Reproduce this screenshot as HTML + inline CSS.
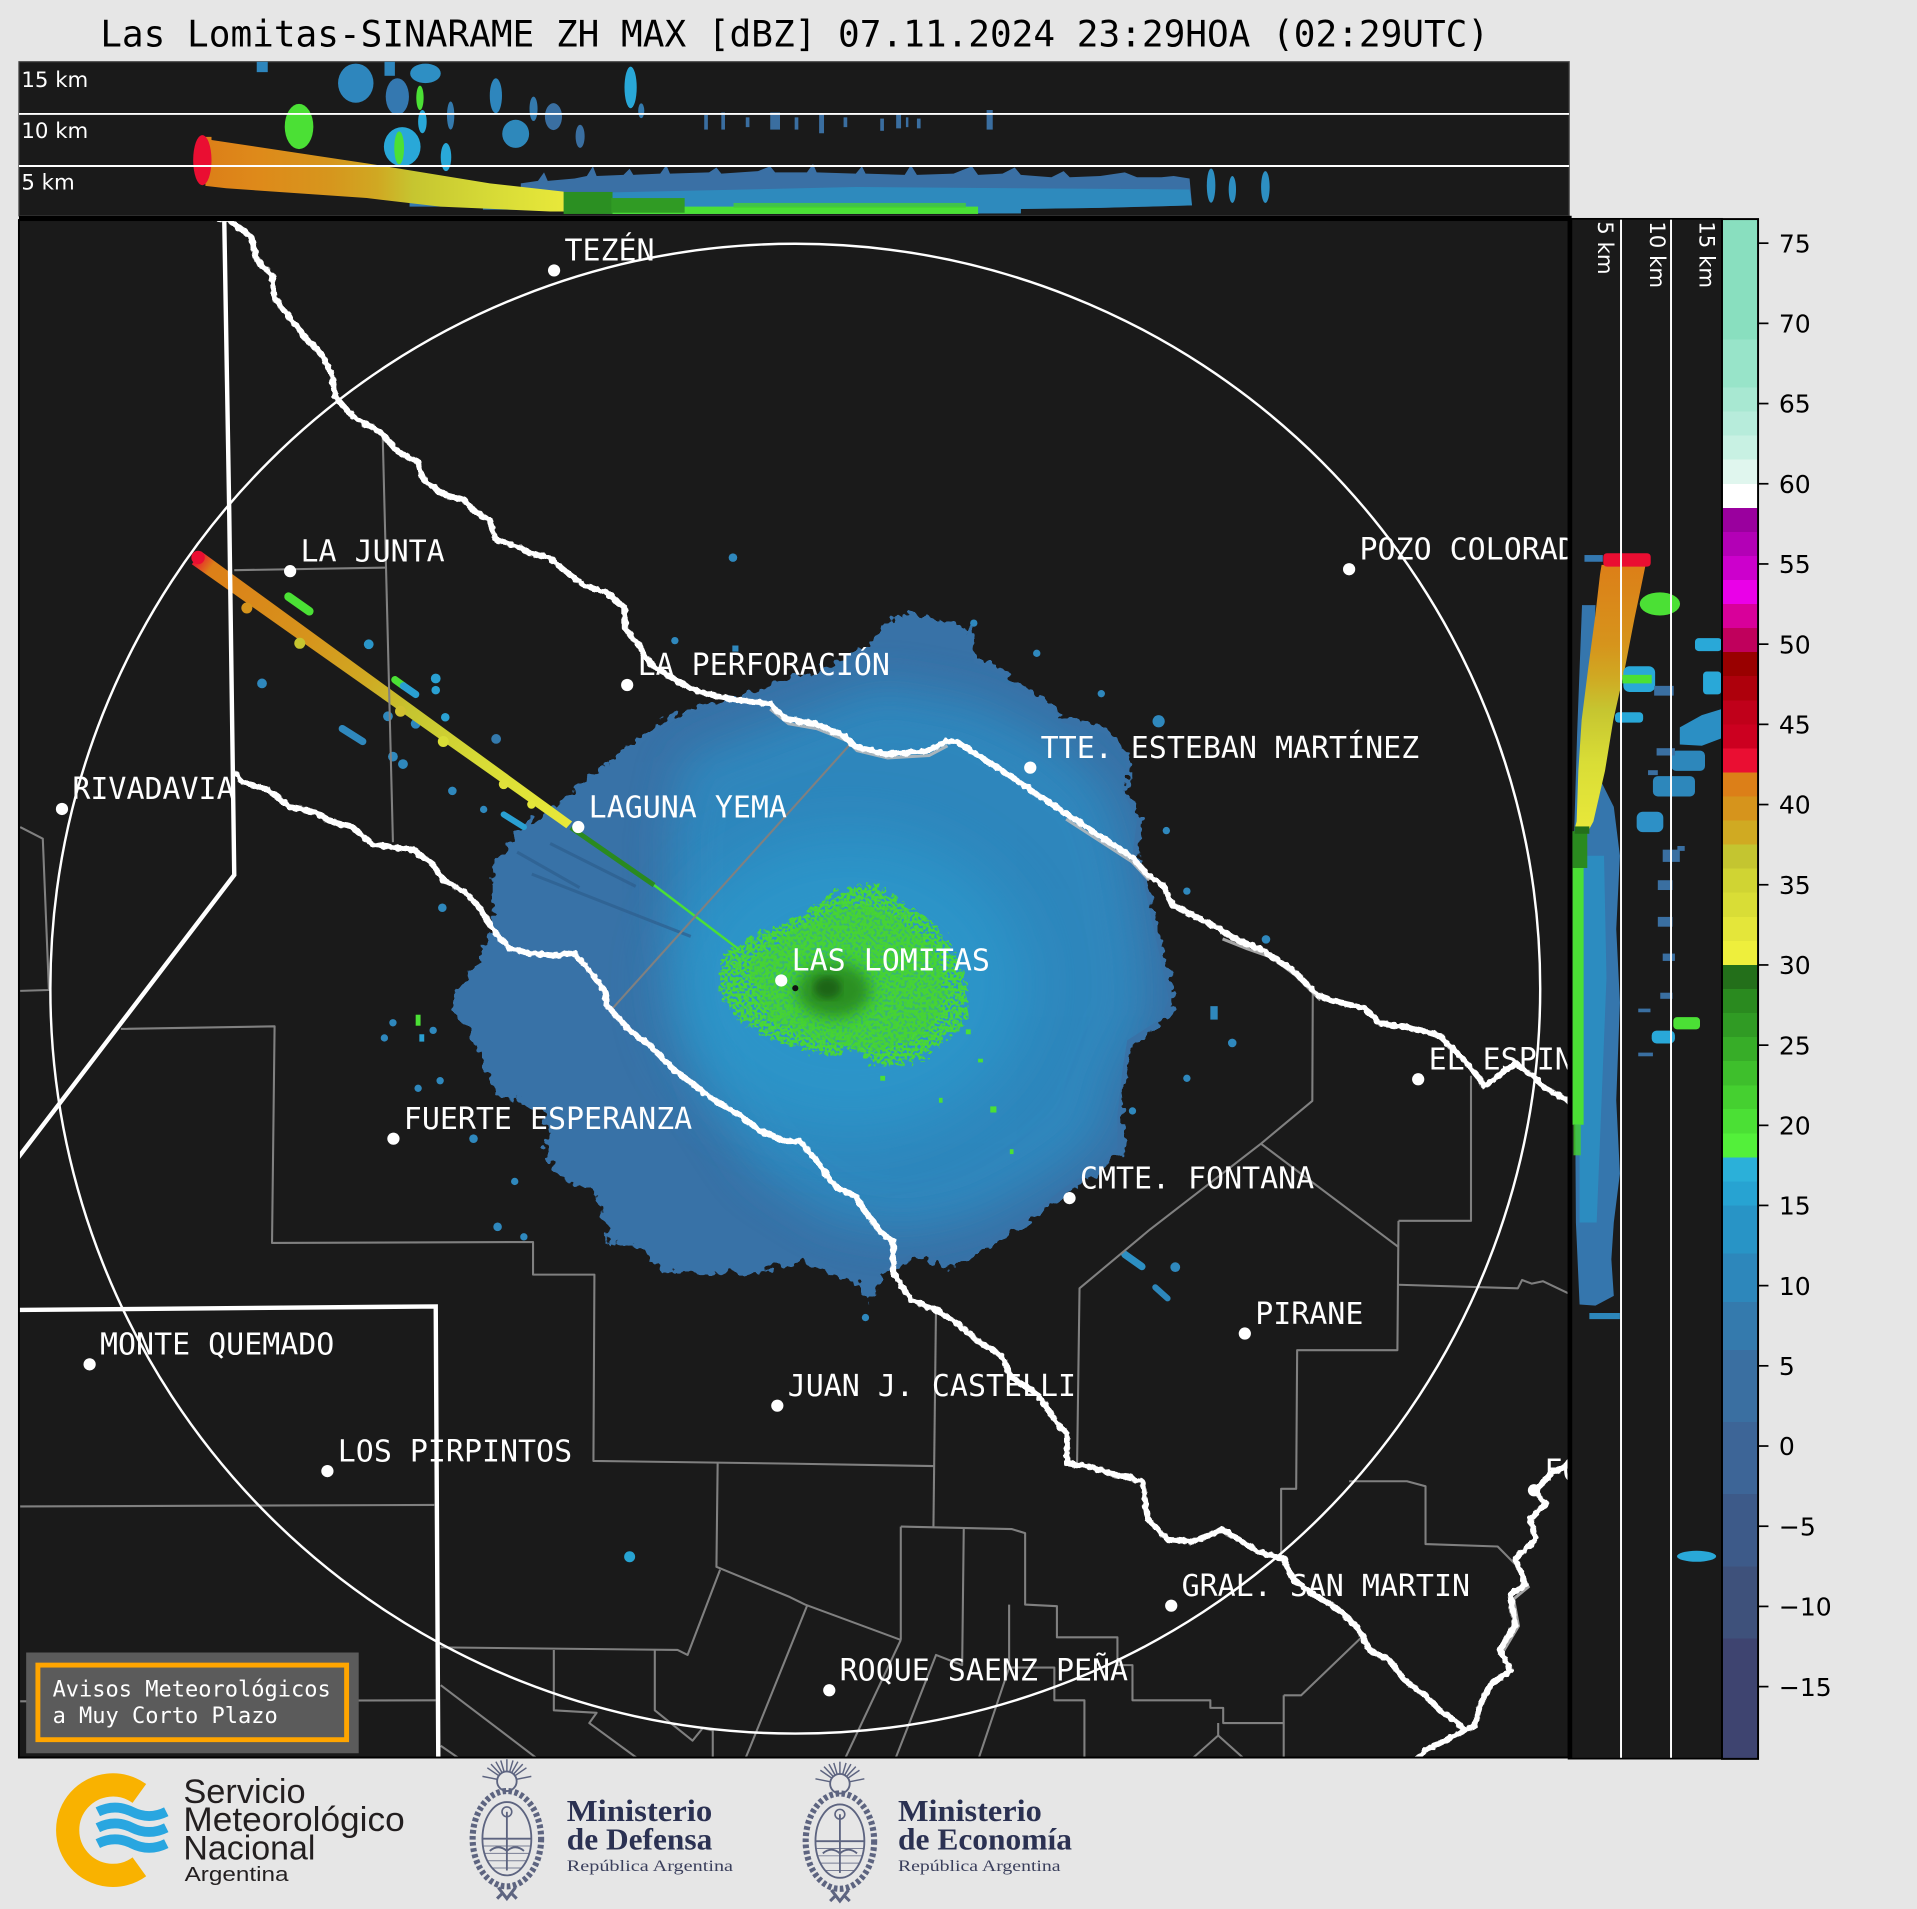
<!DOCTYPE html>
<html><head><meta charset="utf-8"><style>
html,body{margin:0;padding:0;background:#e6e6e6;}
svg{display:block;}
</style></head><body>
<svg xmlns="http://www.w3.org/2000/svg" width="1917" height="1909" viewBox="0 0 1568 1561.5" preserveAspectRatio="none">
<defs>
<clipPath id="cTop"><rect x="15.5" y="50.5" width="1268" height="126"/></clipPath>
<clipPath id="cMain"><rect x="15.5" y="180" width="1267.5" height="1257.6"/></clipPath>
<clipPath id="cSide"><rect x="1286" y="179" width="122.5" height="1259.5"/></clipPath>
<clipPath id="cBlob"><polygon points="744,506 768,512 791,519 797,542 819,552 843,570 859,577 869,591 904,600 922,622 918,646 930,671 926,701 934,715 942,752 950,788 956,817 950,833 922,851 918,876 914,912 914,940 895,956 871,971 846,991 813,1012 792,1028 778,1034 749,1024 724,1037 712,1058 700,1045 658,1028 642,1032 618,1037 577,1037 546,1037 526,1016 502,1012 498,997 490,973 465,962 450,940 453,921 445,909 428,897 412,892 400,870 391,846 376,826 380,810 388,797 399,781 407,759 407,710 426,682 450,667 477,645 513,616 537,598 560,584 590,577 618,570 645,559 673,551 708,533 726,515"/></clipPath>
<filter id="rough" x="-10%" y="-10%" width="120%" height="120%"><feTurbulence type="fractalNoise" baseFrequency="0.13" numOctaves="2" seed="4"/><feDisplacementMap in="SourceGraphic" scale="14" xChannelSelector="R" yChannelSelector="G"/></filter>
<filter id="rough2" x="-10%" y="-10%" width="120%" height="120%"><feTurbulence type="fractalNoise" baseFrequency="0.2" numOctaves="2" seed="9"/><feDisplacementMap in="SourceGraphic" scale="16" xChannelSelector="R" yChannelSelector="G"/></filter>
<filter id="speck" x="0" y="0" width="100%" height="100%"><feTurbulence type="fractalNoise" baseFrequency="0.45" numOctaves="1" seed="7" result="n"/><feColorMatrix in="n" type="matrix" values="0 0 0 0 0  0 0 0 0 0  0 0 0 0 0  7 0 0 0 -2.6" result="m"/><feComposite in="SourceGraphic" in2="m" operator="in"/></filter>
<filter id="wig" x="-5%" y="-5%" width="110%" height="110%"><feTurbulence type="fractalNoise" baseFrequency="0.25" numOctaves="1" seed="2"/><feDisplacementMap in="SourceGraphic" scale="4" xChannelSelector="R" yChannelSelector="G"/></filter>
<filter id="b20" x="-20%" y="-20%" width="140%" height="140%"><feGaussianBlur stdDeviation="18"/></filter>
<filter id="b25" x="-30%" y="-30%" width="160%" height="160%"><feGaussianBlur stdDeviation="25"/></filter>
<filter id="b6" x="-30%" y="-30%" width="160%" height="160%"><feGaussianBlur stdDeviation="6"/></filter>
<filter id="b3"><feGaussianBlur stdDeviation="3"/></filter>
<linearGradient id="gBeam" gradientUnits="userSpaceOnUse" x1="160" y1="456" x2="466" y2="675">
<stop offset="0" stop-color="#ea0e32"/><stop offset="0.04" stop-color="#dc7f18"/><stop offset="0.3" stop-color="#d6941c"/><stop offset="0.45" stop-color="#d0a822"/><stop offset="0.58" stop-color="#c6c530"/><stop offset="0.78" stop-color="#d9dd36"/><stop offset="1" stop-color="#e8e83a"/></linearGradient>
<linearGradient id="gTopBeam" gradientUnits="userSpaceOnUse" x1="168" y1="0" x2="461" y2="0">
<stop offset="0" stop-color="#dc7f18"/><stop offset="0.15" stop-color="#de8a1a"/><stop offset="0.35" stop-color="#d6961d"/><stop offset="0.48" stop-color="#d0a822"/><stop offset="0.58" stop-color="#c6c530"/><stop offset="0.78" stop-color="#d5d936"/><stop offset="1" stop-color="#e8e83a"/></linearGradient>
<linearGradient id="gSideBeam" gradientUnits="userSpaceOnUse" x1="0" y1="463" x2="0" y2="677">
<stop offset="0" stop-color="#dc7f18"/><stop offset="0.3" stop-color="#d6941c"/><stop offset="0.42" stop-color="#d0a822"/><stop offset="0.55" stop-color="#c6c530"/><stop offset="0.75" stop-color="#d9dd36"/><stop offset="1" stop-color="#e8e83a"/></linearGradient>
</defs>

<rect x="0" y="0" width="1568" height="1561.5" fill="#e6e6e6"/>

<text x="82" y="38" font-family="DejaVu Sans Mono, Liberation Mono, monospace" font-size="29.6" fill="#000" textLength="1136" lengthAdjust="spacingAndGlyphs">Las Lomitas-SINARAME ZH MAX [dBZ] 07.11.2024 23:29HOA (02:29UTC)</text>

<!-- ================= TOP PANEL ================= -->
<rect x="15.5" y="50.5" width="1268" height="126" fill="#1a1a1a" stroke="#444" stroke-width="1"/>
<g clip-path="url(#cTop)">
  <ellipse cx="244.6" cy="103.5" rx="11.7" ry="18.5" fill="#4be035"/>
  <ellipse cx="291" cy="68" rx="14.5" ry="16" fill="#2e86bd"/>
  <rect x="210" y="50" width="9" height="9" fill="#2e86bd"/>
  <rect x="314.5" y="50" width="8.5" height="12" fill="#2e86bd"/>
  <ellipse cx="325" cy="79" rx="9.5" ry="15" fill="#3478b0"/>
  <ellipse cx="348" cy="60" rx="12.5" ry="8" fill="#2e8fc4"/>
  <ellipse cx="343.5" cy="80" rx="3" ry="10" fill="#4be035"/>
  <ellipse cx="345.5" cy="99.5" rx="3.5" ry="9.5" fill="#29a8d8"/>
  <ellipse cx="329" cy="120" rx="15" ry="16" fill="#29a8d8"/>
  <ellipse cx="326.5" cy="121" rx="4" ry="13.5" fill="#4be035"/>
  <ellipse cx="364.8" cy="128.5" rx="4.3" ry="11.5" fill="#29a8d8"/>
  <ellipse cx="368.6" cy="94.5" rx="3" ry="11.5" fill="#347aad"/>
  <ellipse cx="405.6" cy="78.3" rx="5" ry="14.3" fill="#2e86bd"/>
  <ellipse cx="421.8" cy="109.5" rx="11" ry="11.5" fill="#2e88bb"/>
  <ellipse cx="436.4" cy="89" rx="3.3" ry="10" fill="#347aad"/>
  <ellipse cx="452.7" cy="95.4" rx="7" ry="11" fill="#3a6fa1"/>
  <ellipse cx="474.5" cy="111.5" rx="3.7" ry="9.5" fill="#3a6fa1"/>
  <ellipse cx="515.8" cy="71.5" rx="5" ry="17" fill="#29a8d8"/>
  <ellipse cx="524.5" cy="90.6" rx="2.5" ry="6" fill="#347aad"/>
  <g fill="#3a6ea0">
    <rect x="576" y="94" width="3" height="12"/><rect x="590" y="92" width="3" height="14"/><rect x="610" y="96" width="3" height="8"/>
    <rect x="630" y="92" width="8" height="14"/><rect x="650" y="96" width="3" height="10"/><rect x="670" y="93" width="4" height="16"/>
    <rect x="690" y="96" width="3" height="8"/><rect x="720" y="97" width="3" height="10"/><rect x="733" y="93" width="4" height="12"/>
    <rect x="741" y="96" width="2" height="8"/><rect x="750" y="97" width="3" height="8"/><rect x="807" y="90" width="5" height="16"/>
  </g>
  <polygon fill="#3a70a5" points="426,150 440,148 445,141 448,148 470,146 480,144 485,136 488,144 510,143 515,138 518,143 540,142 545,135 548,142 580,141 586,137 590,142 620,140 630,136 634,141 660,141 665,134 668,141 700,142 705,136 708,142 740,143 745,135 750,143 780,142 795,136 800,143 820,142 830,137 835,143 860,145 870,140 875,145 900,144 920,141 930,145 950,145 960,144 973,146 975,168 940,169 900,170 835,171 835,174.5 720,175 600,175 500,175 470,174 461,173 461,157 440,156 426,155"/>
  <polygon fill="#2a95c8" opacity="0.7" points="470,158 700,153 973,155 975,168 900,170 835,171 835,174.5 470,174.5"/>
  <rect x="500" y="169" width="300" height="6" fill="#4be035"/>
  <rect x="600" y="166" width="190" height="4" fill="#45d030" opacity="0.8"/>
  <rect x="461" y="157" width="40" height="18" fill="#2b8f22"/>
  <rect x="500" y="162" width="60" height="12" fill="#309b24"/>
  <ellipse cx="990.6" cy="151.8" rx="3.5" ry="14" fill="#2d8fc2"/>
  <ellipse cx="1008" cy="155" rx="3" ry="11" fill="#2d8fc2"/>
  <ellipse cx="1035" cy="153" rx="3.5" ry="13" fill="#2d8fc2"/>
  <rect x="335" y="166" width="28" height="3" fill="#3478b0"/>
  <rect x="395" y="168" width="50" height="3.5" fill="#3478b0"/>
  <polygon fill="url(#gTopBeam)" points="168,112 173,112 173,114.5 300,133.6 400.7,150 461,156.7 461,173 450,173 360,169 300,162 185,154 168,152"/>
  <ellipse cx="165.5" cy="131" rx="7.5" ry="20.5" fill="#ea0e32"/>
  <line x1="15.5" y1="93.2" x2="1283.5" y2="93.2" stroke="#fff" stroke-width="1.6"/>
  <line x1="15.5" y1="135.8" x2="1283.5" y2="135.8" stroke="#fff" stroke-width="1.6"/>
  <g font-family="DejaVu Sans, Liberation Sans, sans-serif" font-size="17.4" fill="#fff">
    <text x="17.5" y="71">15 km</text>
    <text x="17.5" y="113">10 km</text>
    <text x="17.5" y="155">5 km</text>
  </g>
</g>
<rect x="15.5" y="176.5" width="1270" height="3.6" fill="#000"/>

<!-- ================= MAIN MAP ================= -->
<rect x="15.5" y="180" width="1267.5" height="1257.6" fill="#1a1a1a"/>
<g clip-path="url(#cMain)">
  <polygon filter="url(#rough)" fill="#3872a7" points="744,500 768,507 791,514 799,540 819,547 843,566 859,573 871,587 906,595 926,620 922,646 934,671 930,701 938,715 946,752 954,788 962,817 954,836 926,854 922,876 918,912 918,942 898,960 873,975 848,995 815,1016 794,1032 778,1038 749,1028 724,1041 712,1065 700,1049 658,1032 642,1036 618,1041 577,1041 544,1041 523,1020 499,1016 494,999 486,975 461,966 445,942 449,921 441,909 424,900 408,896 396,872 387,847 371,826 375,810 383,796 395,780 403,759 403,708 423,679 447,664 474,642 510,613 534,595 558,580 589,573 617,566 645,555 673,547 708,529 724,511"/>
  <g clip-path="url(#cBlob)">
    <polygon filter="url(#b20)" fill="#2d89bf" opacity="0.9" points="560,620 640,590 720,560 800,575 860,605 905,645 922,700 935,780 938,830 912,880 900,930 860,962 800,995 740,1008 680,998 620,960 580,900 560,840 548,760 548,680"/>
    <ellipse cx="695" cy="805" rx="145" ry="122" fill="#2a9fd1" opacity="0.6" filter="url(#b25)"/>
    <g stroke="#2e5f8e" stroke-width="2.5" opacity="0.7">
      <line x1="423" y1="697" x2="474" y2="726"/>
      <line x1="435" y1="715" x2="565" y2="766"/>
      <line x1="450" y1="690" x2="520" y2="725"/>
    </g>
  </g>
  <g filter="url(#speck)">
    <polygon filter="url(#rough2)" fill="#4ad835" points="588,790 600,775 625,762 650,752 668,740 690,728 712,722 735,735 755,748 772,765 785,790 792,815 788,840 770,852 755,866 730,872 712,868 700,858 676,862 652,858 628,848 605,835 590,815"/>
  </g>
  <polygon filter="url(#rough2)" fill="#45d233" opacity="0.55" points="610,790 640,765 690,740 730,745 765,775 775,815 760,845 720,860 670,852 630,835"/>
  <ellipse cx="682" cy="810" rx="30" ry="22" fill="#2c9024" filter="url(#b6)"/>
  <ellipse cx="677" cy="808" rx="11" ry="9" fill="#1f6519" filter="url(#b3)"/>
  <g fill="#4be035">
    <rect x="790" y="842" width="4" height="4"/><rect x="810" y="905" width="5" height="5"/><rect x="768" y="898" width="3" height="4"/>
    <rect x="826" y="940" width="3" height="4"/><rect x="800" y="866" width="4" height="3"/><rect x="720" y="880" width="4" height="4"/>
  </g>
  <g fill="#2f88bd">
    <circle cx="301.6" cy="527" r="4" fill="#2a95c8"/><circle cx="214.3" cy="559" r="4"/>
    <circle cx="356.4" cy="555" r="4" fill="#2aa0d2"/><circle cx="356.4" cy="564.5" r="3.5" fill="#2aa0d2"/>
    <circle cx="364.2" cy="586.7" r="3.5" fill="#2aa0d2"/><circle cx="317.3" cy="585.9" r="4"/>
    <circle cx="340" cy="592" r="4"/><circle cx="405.8" cy="604.4" r="4" fill="#347aad"/>
    <circle cx="321.4" cy="618.9" r="4"/><circle cx="329.6" cy="625" r="4"/>
    <circle cx="370" cy="646.9" r="3.5"/><circle cx="395.6" cy="662.1" r="3"/>
    <circle cx="599.5" cy="456.1" r="3.5"/><circle cx="552" cy="524" r="3"/><rect x="599" y="528" width="5" height="5"/>
    <circle cx="361.8" cy="742.5" r="3.5"/>
    <circle cx="321.4" cy="836.6" r="3"/><circle cx="314.4" cy="849" r="3"/><circle cx="354.3" cy="842.8" r="3"/>
    <circle cx="342" cy="890.2" r="3"/><circle cx="360" cy="884" r="3"/><circle cx="387.3" cy="931.4" r="3.5"/>
    <circle cx="407" cy="1003.5" r="3.5"/><circle cx="428.5" cy="1011.7" r="3"/><circle cx="421" cy="966.4" r="3"/>
    <circle cx="515" cy="1273.4" r="4.5" fill="#27a3d2"/>
    <rect x="990" y="823" width="6" height="11"/><circle cx="1007.9" cy="853.1" r="3.5"/>
    <circle cx="970.8" cy="882" r="3"/><circle cx="926.3" cy="908.7" r="3"/>
    <circle cx="961.3" cy="1036.5" r="4"/><circle cx="707.9" cy="1077.7" r="3"/>
    <circle cx="1035.5" cy="768.4" r="3.5"/><circle cx="970.8" cy="728.9" r="3"/><circle cx="954" cy="679.4" r="3"/>
    <circle cx="947.7" cy="590" r="5"/><circle cx="900.8" cy="567.4" r="3"/><circle cx="848" cy="534.4" r="3"/><circle cx="796.5" cy="509.7" r="3"/>
  </g>
  <g stroke-linecap="round">
    <line x1="280" y1="596" x2="296.7" y2="606.5" stroke="#2f88bd" stroke-width="6"/>
    <line x1="323" y1="556" x2="330" y2="561" stroke="#4be035" stroke-width="6"/>
    <line x1="330" y1="561" x2="340" y2="568" stroke="#2aa0d2" stroke-width="6"/>
    <line x1="412" y1="666.2" x2="428.5" y2="676.5" stroke="#2aa0d2" stroke-width="5"/>
    <line x1="236" y1="488" x2="253" y2="500" stroke="#4be035" stroke-width="7"/>
    <line x1="920" y1="1026" x2="934" y2="1036" stroke="#2d8fc2" stroke-width="6"/>
    <line x1="945" y1="1053" x2="955" y2="1062" stroke="#2d87bb" stroke-width="5"/>
    <rect x="340" y="830" width="4" height="9" fill="#4be035" stroke="none"/>
    <rect x="343" y="846" width="4" height="6" fill="#2aa0d2" stroke="none"/>
  </g>
  <!-- beam -->
  <polygon fill="url(#gBeam)" points="164.5,451 468,672 463.2,677.5 156.9,461.5"/>
  <circle cx="162" cy="456" r="5.5" fill="#ea0e32"/>
  <g>
    <circle cx="201.9" cy="497.3" r="4.5" fill="#d6941c"/>
    <circle cx="245.2" cy="526.2" r="4.5" fill="#c6c530"/>
    <circle cx="327.6" cy="581.8" r="4.5" fill="#d0c030"/>
    <circle cx="362.6" cy="606.5" r="4.5" fill="#d9dd36"/>
    <circle cx="412" cy="641.5" r="4" fill="#e0e03a"/>
    <circle cx="434.7" cy="658" r="3.5" fill="#e4e63a"/>
  </g>
  <line x1="467" y1="677" x2="535" y2="724" stroke="#2a8a1f" stroke-width="4"/>
  <line x1="535" y1="724" x2="605" y2="777" stroke="#4be035" stroke-width="2"/>

  <g fill="none" stroke="#808080" stroke-width="1.7" stroke-linejoin="round">
    <polyline points="191.6,466.4 315.2,464.3"/>
    <polyline points="313,355.2 321.4,688.9"/>
    <polyline points="16.5,676.5 35,686 40,809.8 16.5,810.5"/>
    <polyline points="697,607 500,826"/>
    <polyline points="98.9,841.6 224.6,839.5 222.5,1016.7 436,1015.9 436,1042.6 486.2,1042.6 485.4,1195 646,1197.2 763.5,1199.2"/>
    <polyline points="16.5,1232.2 355.2,1231"/>
    <polyline points="16.5,1391.6 356.4,1390.8"/>
    <polyline points="587,1197 586,1281.6 646,1306.3 658.5,1312.5 736.8,1341.4"/>
    <polyline points="589,1284 562.4,1353.7 554.2,1349.6 360.5,1347.5"/>
    <polyline points="453,1349.6 453,1399 488,1401 482,1409.4 521,1438"/>
    <polyline points="360.5,1378.4 438.8,1438"/>
    <polyline points="360.5,1428 375,1438"/>
    <polyline points="535.6,1349.6 535.6,1399 566.5,1423.8 574.8,1413.5 583,1415.5 583,1438"/>
    <polyline points="660.5,1312.5 614,1428 609,1440"/>
    <polyline points="1073.8,809.8 1073.4,900.5 1031.4,935.5 940.7,1005.6 883,1053.8 881,1197"/>
    <polyline points="1031.4,935.5 1143.9,1020"/>
    <polyline points="1143.9,998.6 1143,1104.4 1061,1104.4 1060.2,1217.8 1047.9,1217.8 1047.9,1275"/>
    <polyline points="1143.9,998.6 1203.2,998.6 1203.2,879.9"/>
    <polyline points="1143.9,1050.9 1241.5,1053.8 1245,1047 1253,1050 1262,1048 1283,1058"/>
    <polyline points="1103.5,1211.6 1150.8,1211.6 1166,1215.7 1166,1263 1225,1265 1239.4,1279.6"/>
    <polyline points="765.6,1069.4 763.5,1248.7"/>
    <polyline points="736.8,1248.7 827.4,1250.7 838.5,1254 838.5,1312.5 864.5,1313.8 864.5,1339.3 914,1339.3 914,1362 926.3,1362 926.3,1390.8 990,1390.8 990,1397 1000.5,1397 1000.5,1409.4 1050,1409.4"/>
    <polyline points="736.8,1248.7 736.8,1341.4"/>
    <polyline points="788.3,1250.7 787,1362 765.6,1353.7 732.6,1438"/>
    <polyline points="736.8,1341.4 691.4,1438"/>
    <polyline points="825.4,1312.5 825.4,1364 862.4,1364 862.4,1390.8 887,1390.8 887,1438"/>
    <polyline points="825.4,1364 800.6,1438"/>
    <polyline points="996.4,1409.4 996.4,1419.6 975.7,1438"/>
    <polyline points="996.4,1419.6 1017,1438"/>
    <polyline points="1050,1386.7 1050,1438"/>
    <polyline points="1050,1386.7 1064.3,1386.7 1116,1337"/>
  </g>
  <g fill="none" stroke="#bdbdbd" stroke-width="2.5" opacity="0.85">
    <polyline points="511,500 513,516 523,528 533,545 546,553"/>
    <polyline points="630,580 645,592 668,596 693,606 701,614 726,620 760,618 775,610"/>
    <polyline points="872,670 926,705 940,720"/>
    <polyline points="1000,768 1020,776 1040,783 1060,798 1080,818"/>
    <polyline points="1240,1280 1250,1298 1238,1308 1242,1330 1230,1350"/>
  </g>
  <g fill="none" stroke="#fff" stroke-width="4.8" stroke-linejoin="round" stroke-linecap="round" filter="url(#wig)">
    <polyline points="175,178 187.5,180 206,194.5 210,213 222.5,225.4 224.6,244 237,260 249,275 264,291 272,308 274,324 288.4,340.7 311,353 325.5,369.6 342,378 346,392 362.6,404.6 379,408.7 389,419 400,425 406,441.7 420,445.8 432.6,452 449,456 461.5,466.4 478,478.8 496.5,485 511,497.3 511,513.8 521,526 531.5,542.6 544,550.9 564.5,563.2 585,569.4 609.8,573.5 630,575.6 642.8,588 666.7,592 691.4,602.4 699.7,610.6 724.4,616.8 757.4,614.7 773.8,606.5 782,606.5 827.4,635.3 872.7,666.2 926.3,701.3 938.7,715.7 951,724 959,740.4 975.7,748.6 992,757 1012.8,769.2 1033.4,777.5 1058,794 1078.7,814.8 1095,820 1115.8,824.3 1128,836.6 1153,840.7 1177.6,847 1198,867.5 1214.7,888 1239.4,869.6 1255.9,882 1264,890.2 1285,902"/>
    <polyline points="193.7,633.3 197.8,639.4 218.4,645.6 237,660 257.5,664.2 272,672.4 288.4,676.5 305,691 321,693 337.9,695 354.3,707.4 362.6,719.8 381,730 393.5,744.5 403.8,761 416,775.4 432.6,779.5 453,781.6 469.7,779.5 482,794 494.4,809.8 496.5,822.2 515,842.8 531.5,855 552,875.8 568.6,888 585,900.5 605.7,912.8 622,925.2 642.8,933.5 654.4,933.5 666.7,947.9 683.2,970.5 699.7,978.8 708,991 720.3,1007.6 730.6,1015.9 730.6,1040.6 745,1063.2 765.6,1071.5 782,1081.8 798.6,1096.2 819,1108.6 827.4,1127 848,1139.5 864.5,1164.2 872.7,1172.4 872.7,1197 889.2,1199.2 909.8,1205.4 934.5,1211.6 938.7,1242.5 955,1259 975.7,1261 1000.5,1250.7 1012.8,1259 1029.3,1269.3 1050,1275.4 1058,1292 1074.6,1304.3 1095,1316.6 1111.7,1333 1120,1349.6 1136.4,1357.8 1148.8,1374.3 1165.3,1386.7 1177.6,1399 1190,1407.3 1198,1415.5 1181.8,1423.8 1165.3,1432 1158,1440"/>
    <polyline points="1285,1195 1280.6,1199.2 1268,1205.4 1256,1219.8 1264,1230 1251.8,1242.5 1256,1259 1239.4,1275.4 1247.7,1296 1235.3,1304.3 1239.4,1329 1227,1349.6 1235.3,1366 1218.8,1378.4 1210.6,1395 1206.5,1411.4 1198,1415.5"/>
  </g>
  <g fill="none" stroke="#fff" stroke-width="3.6" stroke-linejoin="miter">
    <polyline points="183.4,178 187.5,419 191.6,715.7 14,948"/>
    <polyline points="14,1071.5 356.4,1068.6 358.5,1440"/>
  </g>
  <circle cx="650.5" cy="808.7" r="609.3" fill="none" stroke="#fff" stroke-width="2"/>
  <g fill="#fff">
    <circle cx="453.2" cy="221.2" r="5"/><circle cx="237.3" cy="467.2" r="5"/><circle cx="513" cy="560.3" r="5"/>
    <circle cx="50.7" cy="661.7" r="5"/><circle cx="473" cy="676.5" r="5"/><circle cx="639" cy="802" r="5"/>
    <circle cx="1103.5" cy="465.6" r="5"/><circle cx="842.7" cy="627.9" r="5"/><circle cx="321.8" cy="931.4" r="5"/>
    <circle cx="73.3" cy="1116" r="5"/><circle cx="267.8" cy="1203.3" r="5"/><circle cx="635.8" cy="1149.8" r="5"/>
    <circle cx="874.8" cy="980" r="5"/><circle cx="1160" cy="882.8" r="5"/><circle cx="1018.2" cy="1090.8" r="5"/>
    <circle cx="958" cy="1313.4" r="5"/><circle cx="678.3" cy="1382.6" r="5"/><circle cx="1254.7" cy="1219" r="5"/>
  </g>
  <circle cx="650.5" cy="808.3" r="2.5" fill="#111"/>
  <g font-family="DejaVu Sans Mono, Liberation Mono, monospace" font-size="24.5" fill="#fff">
    <text x="461.7" y="213.2">TEZÉN</text>
    <text x="245.8" y="459.2">LA JUNTA</text>
    <text x="521.5" y="552.3">LA PERFORACIÓN</text>
    <text x="59.2" y="653.7">RIVADAVIA</text>
    <text x="481.5" y="668.5">LAGUNA YEMA</text>
    <text x="647.5" y="794">LAS LOMITAS</text>
    <text x="1112" y="457.6">POZO COLORADO</text>
    <text x="851.2" y="619.9">TTE. ESTEBAN MARTÍNEZ</text>
    <text x="330.3" y="923.4">FUERTE ESPERANZA</text>
    <text x="81.8" y="1108">MONTE QUEMADO</text>
    <text x="276.3" y="1195.3">LOS PIRPINTOS</text>
    <text x="644.3" y="1141.8">JUAN J. CASTELLI</text>
    <text x="883.3" y="972">CMTE. FONTANA</text>
    <text x="1168.5" y="874.8">EL ESPINILLO</text>
    <text x="1026.7" y="1082.8">PIRANE</text>
    <text x="966.5" y="1305.4">GRAL. SAN MARTIN</text>
    <text x="686.8" y="1374.6">ROQUE SAENZ PEÑA</text>
    <text x="1263.2" y="1211">FORMOSA</text>
  </g>
  <rect x="21.4" y="1351.7" width="272" height="82.4" fill="#5b5b5b"/>
  <rect x="31" y="1362" width="252.5" height="61" fill="none" stroke="#ffa500" stroke-width="4"/>
  <g font-family="DejaVu Sans Mono, Liberation Mono, monospace" font-size="18" fill="#fff">
    <text x="43" y="1387.5">Avisos Meteorológicos</text>
    <text x="43" y="1409.4">a Muy Corto Plazo</text>
  </g>
</g>
<rect x="15.5" y="180" width="1267.5" height="1257.6" fill="none" stroke="#000" stroke-width="1.6"/>

<!-- ================= SIDE PANEL ================= -->
<rect x="1283" y="179" width="125.5" height="1259.5" fill="#1a1a1a"/>
<g clip-path="url(#cSide)">
  <polygon fill="#3576ad" points="1294,495 1305,495 1303,560 1301,620 1310,640 1320,660 1325,700 1322,760 1325,820 1322,900 1325,960 1320,1000 1318,1030 1320,1060 1305,1068 1292,1067 1289,1000 1287,700 1290,600"/>
  <polygon fill="#2a95c8" opacity="0.7" points="1292,700 1312,700 1314,800 1310,900 1306,1000 1292,1000"/>
  <rect x="1300" y="1074" width="25" height="5" fill="#2d87bb"/>
  <rect x="1296" y="454" width="15" height="5.5" fill="#3478b0"/>
  <rect x="1286.3" y="680" width="9" height="240" fill="#4be035"/>
  <rect x="1286.3" y="680" width="12" height="30" fill="#2a8a1f"/>
  <rect x="1287" y="920" width="6" height="25" fill="#45d030" opacity="0.8"/>
  <polygon fill="url(#gSideBeam)" points="1310,462 1346,462 1341.4,484.6 1337,505.5 1329,547 1319.6,589 1312.8,630.6 1303.3,672 1300,678 1288,678 1289.6,672 1291,630.6 1293.7,589 1299,547 1304.6,505.5 1308.7,470"/>
  <rect x="1311.4" y="452.5" width="38.8" height="11" rx="3" fill="#ea0e32"/>
  <rect x="1288" y="676" width="12" height="6" fill="#236f1a"/>
  <ellipse cx="1357.7" cy="494" rx="16.5" ry="9.5" fill="#4be035"/>
  <rect x="1327.8" y="545" width="26" height="21" rx="5" fill="#29a8d8"/>
  <rect x="1327" y="552" width="24" height="7" fill="#4be035"/>
  <rect x="1321" y="582.6" width="23" height="8.5" rx="3" fill="#29a8d8"/>
  <rect x="1386.4" y="522" width="22" height="10.6" rx="3" fill="#29a8d8"/>
  <rect x="1393" y="549.3" width="15" height="18.7" rx="3" fill="#29a8d8"/>
  <polygon fill="#2b8fc4" points="1374,595 1392,585 1408,580 1408,604 1392,610 1374,609"/>
  <rect x="1353" y="561" width="16" height="8" fill="#3a6fa1"/>
  <rect x="1367" y="614" width="27.6" height="16.6" rx="4" fill="#2d87bb"/>
  <rect x="1352" y="634.8" width="34.4" height="16.7" rx="4" fill="#2d87bb"/>
  <rect x="1338.7" y="664" width="21.8" height="16.7" rx="5" fill="#2d90c6"/>
  <g fill="#3a6fa1">
    <rect x="1355" y="612" width="15" height="6"/><rect x="1348" y="630" width="8" height="4"/>
    <rect x="1360" y="695" width="14" height="10"/><rect x="1356" y="720" width="12" height="8"/>
    <rect x="1356" y="750" width="12" height="8"/><rect x="1360" y="780" width="10" height="6"/>
    <rect x="1358" y="812" width="10" height="5"/><rect x="1340" y="825" width="10" height="3"/>
    <rect x="1372" y="692" width="6" height="4"/><rect x="1340" y="861" width="12" height="3"/>
  </g>
  <rect x="1368.7" y="832" width="21.8" height="10" rx="3" fill="#4be035"/>
  <rect x="1351" y="843" width="19" height="10.5" rx="4" fill="#29a8d8"/>
  <ellipse cx="1387.7" cy="1273" rx="16" ry="4.5" fill="#29a8d8"/>
  <line x1="1325.9" y1="179" x2="1325.9" y2="1438.5" stroke="#fff" stroke-width="1.6"/>
  <line x1="1366.8" y1="179" x2="1366.8" y2="1438.5" stroke="#fff" stroke-width="1.6"/>
  <g font-family="DejaVu Sans, Liberation Sans, sans-serif" font-size="17.4" fill="#fff">
    <text transform="translate(1307,181) rotate(90)">5 km</text>
    <text transform="translate(1349.5,181) rotate(90)">10 km</text>
    <text transform="translate(1390,181) rotate(90)">15 km</text>
  </g>
</g>
<rect x="1283" y="179" width="3" height="1259.5" fill="#000"/>
<rect x="1283" y="179" width="125.5" height="1259.5" fill="none" stroke="#000" stroke-width="1.4"/>

<!-- ================= COLORBAR ================= -->
<g shape-rendering="crispEdges">
<rect x="1408.5" y="179.2" width="29.5" height="98.4" fill="#89dfbf"/>
<rect x="1408.5" y="277.6" width="29.5" height="39.4" fill="#98e4c9"/>
<rect x="1408.5" y="317" width="29.5" height="19.7" fill="#a8e8d2"/>
<rect x="1408.5" y="336.7" width="29.5" height="19.6" fill="#b7ecdb"/>
<rect x="1408.5" y="356.3" width="29.5" height="19.7" fill="#c8f1e3"/>
<rect x="1408.5" y="376" width="29.5" height="19.7" fill="#e0f6ee"/>
<rect x="1408.5" y="395.7" width="29.5" height="19.7" fill="#ffffff"/>
<rect x="1408.5" y="415.4" width="29.5" height="19.6" fill="#9a009e"/>
<rect x="1408.5" y="435" width="29.5" height="19.7" fill="#b300b6"/>
<rect x="1408.5" y="454.7" width="29.5" height="19.7" fill="#cc00cc"/>
<rect x="1408.5" y="474.4" width="29.5" height="19.7" fill="#ea00e8"/>
<rect x="1408.5" y="494.1" width="29.5" height="19.7" fill="#d8009a"/>
<rect x="1408.5" y="513.8" width="29.5" height="19.6" fill="#c0005c"/>
<rect x="1408.5" y="533.4" width="29.5" height="19.7" fill="#990000"/>
<rect x="1408.5" y="553.1" width="29.5" height="19.7" fill="#ae000c"/>
<rect x="1408.5" y="572.8" width="29.5" height="19.7" fill="#c0001a"/>
<rect x="1408.5" y="592.5" width="29.5" height="19.6" fill="#cc0020"/>
<rect x="1408.5" y="612.1" width="29.5" height="19.7" fill="#ea0e32"/>
<rect x="1408.5" y="631.8" width="29.5" height="19.7" fill="#dc7f18"/>
<rect x="1408.5" y="651.5" width="29.5" height="19.7" fill="#d6941c"/>
<rect x="1408.5" y="671.2" width="29.5" height="19.7" fill="#d0aa22"/>
<rect x="1408.5" y="690.9" width="29.5" height="19.6" fill="#c4c530"/>
<rect x="1408.5" y="710.5" width="29.5" height="19.7" fill="#d0d433"/>
<rect x="1408.5" y="730.2" width="29.5" height="19.7" fill="#d9dd36"/>
<rect x="1408.5" y="749.9" width="29.5" height="19.7" fill="#e4e63a"/>
<rect x="1408.5" y="769.6" width="29.5" height="19.7" fill="#eeef3c"/>
<rect x="1408.5" y="789.3" width="29.5" height="19.6" fill="#236f1a"/>
<rect x="1408.5" y="808.9" width="29.5" height="19.7" fill="#2a8a1f"/>
<rect x="1408.5" y="828.6" width="29.5" height="19.7" fill="#309b24"/>
<rect x="1408.5" y="848.3" width="29.5" height="19.7" fill="#37ad28"/>
<rect x="1408.5" y="868" width="29.5" height="19.7" fill="#3ebf2c"/>
<rect x="1408.5" y="887.7" width="29.5" height="19.6" fill="#45d030"/>
<rect x="1408.5" y="907.3" width="29.5" height="19.7" fill="#4be035"/>
<rect x="1408.5" y="927" width="29.5" height="19.7" fill="#53f03a"/>
<rect x="1408.5" y="946.7" width="29.5" height="19.7" fill="#2bb0d9"/>
<rect x="1408.5" y="966.4" width="29.5" height="19.6" fill="#27a3d2"/>
<rect x="1408.5" y="986" width="29.5" height="39.4" fill="#2894c6"/>
<rect x="1408.5" y="1025.4" width="29.5" height="39.4" fill="#2d87bb"/>
<rect x="1408.5" y="1064.8" width="29.5" height="39.3" fill="#347aad"/>
<rect x="1408.5" y="1104.1" width="29.5" height="59.1" fill="#3a6fa1"/>
<rect x="1408.5" y="1163.2" width="29.5" height="59" fill="#3d6597"/>
<rect x="1408.5" y="1222.2" width="29.5" height="59" fill="#3d5a89"/>
<rect x="1408.5" y="1281.2" width="29.5" height="59.1" fill="#3e517b"/>
<rect x="1408.5" y="1340.3" width="29.5" height="98.4" fill="#3e4470"/>
</g>
<rect x="1408.5" y="179.2" width="29.5" height="1259.5" fill="none" stroke="#000" stroke-width="1.6"/>
<g stroke="#000" stroke-width="1.4">
  <line x1="1438" y1="198.9" x2="1446.5" y2="198.9"/><line x1="1438" y1="264.5" x2="1446.5" y2="264.5"/>
  <line x1="1438" y1="330.1" x2="1446.5" y2="330.1"/><line x1="1438" y1="395.7" x2="1446.5" y2="395.7"/>
  <line x1="1438" y1="461.3" x2="1446.5" y2="461.3"/><line x1="1438" y1="526.9" x2="1446.5" y2="526.9"/>
  <line x1="1438" y1="592.5" x2="1446.5" y2="592.5"/><line x1="1438" y1="658.1" x2="1446.5" y2="658.1"/>
  <line x1="1438" y1="723.7" x2="1446.5" y2="723.7"/><line x1="1438" y1="789.3" x2="1446.5" y2="789.3"/>
  <line x1="1438" y1="854.9" x2="1446.5" y2="854.9"/><line x1="1438" y1="920.5" x2="1446.5" y2="920.5"/>
  <line x1="1438" y1="986" x2="1446.5" y2="986"/><line x1="1438" y1="1051.6" x2="1446.5" y2="1051.6"/>
  <line x1="1438" y1="1117.2" x2="1446.5" y2="1117.2"/><line x1="1438" y1="1182.8" x2="1446.5" y2="1182.8"/>
  <line x1="1438" y1="1248.4" x2="1446.5" y2="1248.4"/><line x1="1438" y1="1314" x2="1446.5" y2="1314"/>
  <line x1="1438" y1="1379.6" x2="1446.5" y2="1379.6"/>
</g>
<g font-family="DejaVu Sans, Liberation Sans, sans-serif" font-size="20.5" fill="#000">
  <text x="1455" y="206.4">75</text><text x="1455" y="272">70</text><text x="1455" y="337.6">65</text>
  <text x="1455" y="403.2">60</text><text x="1455" y="468.8">55</text><text x="1455" y="534.4">50</text>
  <text x="1455" y="600">45</text><text x="1455" y="665.6">40</text><text x="1455" y="731.2">35</text>
  <text x="1455" y="796.8">30</text><text x="1455" y="862.4">25</text><text x="1455" y="928">20</text>
  <text x="1455" y="993.5">15</text><text x="1455" y="1059.1">10</text><text x="1455" y="1124.7">5</text>
  <text x="1455" y="1190.3">0</text><text x="1455" y="1255.9">−5</text><text x="1455" y="1321.5">−10</text>
  <text x="1455" y="1387.1">−15</text>
</g>

<!-- ================= LOGOS ================= -->
<path d="M114,1467 A37,37 0 1 0 114,1527" fill="none" stroke="#f9b200" stroke-width="19"/>
<g fill="none" stroke="#29a6e0" stroke-width="8" stroke-linecap="butt">
  <path d="M80,1482 q14,-7 28,0 t28,0"/>
  <path d="M80,1495 q14,-7 28,0 t28,0"/>
  <path d="M80,1508 q14,-7 28,0 t28,0"/>
</g>
<g font-family="Liberation Sans Narrow, Liberation Sans, sans-serif" fill="#231f20">
  <text x="150" y="1474.6" font-size="28" textLength="100" lengthAdjust="spacingAndGlyphs">Servicio</text>
  <text x="150" y="1497.8" font-size="28" textLength="181" lengthAdjust="spacingAndGlyphs">Meteorológico</text>
  <text x="150" y="1521" font-size="28" textLength="108" lengthAdjust="spacingAndGlyphs">Nacional</text>
  <text x="151" y="1538.6" font-size="17" textLength="85" lengthAdjust="spacingAndGlyphs">Argentina</text>
</g>
<g transform="translate(414.6,1497)" fill="none" stroke="#5d6480">
  <g stroke-width="1.2">
    <line x1="0" y1="-40" x2="0" y2="-58"/><line x1="0" y1="-40" x2="-9" y2="-56"/><line x1="0" y1="-40" x2="9" y2="-56"/>
    <line x1="0" y1="-40" x2="-16" y2="-51"/><line x1="0" y1="-40" x2="16" y2="-51"/><line x1="0" y1="-40" x2="-20" y2="-44"/>
    <line x1="0" y1="-40" x2="20" y2="-44"/><line x1="0" y1="-40" x2="-5" y2="-57"/><line x1="0" y1="-40" x2="5" y2="-57"/>
    <line x1="0" y1="-40" x2="-13" y2="-54"/><line x1="0" y1="-40" x2="13" y2="-54"/>
  </g>
  <circle cx="0" cy="-40" r="8" fill="#e6e6e6" stroke-width="1.5"/>
  <ellipse cx="0" cy="7" rx="28" ry="39" stroke-width="5" stroke-dasharray="3 2"/>
  <ellipse cx="0" cy="7" rx="20" ry="30" stroke-width="1.5"/>
  <line x1="-20" y1="7" x2="20" y2="7" stroke-width="1.5"/>
  <g stroke-width="0.8" opacity="0.8"><line x1="-19" y1="13" x2="19" y2="13"/><line x1="-18" y1="19" x2="18" y2="19"/><line x1="-16" y1="25" x2="16" y2="25"/><line x1="-12" y1="31" x2="12" y2="31"/></g>
  <line x1="0" y1="-15" x2="0" y2="33" stroke-width="1.5"/>
  <circle cx="0" cy="-15" r="4" stroke-width="1.3"/>
  <path d="M-14,17 q7,-6 14,0 q7,-6 14,0" stroke-width="1.5"/>
  <path d="M-7,47 L0,56 L7,47 M-4,52 l-4,4 M4,52 l4,4" stroke-width="2.5"/>
</g>
<g font-family="Liberation Serif, serif" font-weight="bold" fill="#2b3152">
  <text x="463.6" y="1489.6" font-size="25" textLength="119" lengthAdjust="spacingAndGlyphs">Ministerio</text>
  <text x="463.6" y="1512.8" font-size="25" textLength="119" lengthAdjust="spacingAndGlyphs">de Defensa</text>
</g>
<text x="463.6" y="1530.5" font-family="Liberation Serif, serif" font-size="13" fill="#3a3f5c" textLength="136" lengthAdjust="spacingAndGlyphs">República Argentina</text>
<g transform="translate(687,1499)" fill="none" stroke="#5d6480">
  <g stroke-width="1.2">
    <line x1="0" y1="-40" x2="0" y2="-58"/><line x1="0" y1="-40" x2="-9" y2="-56"/><line x1="0" y1="-40" x2="9" y2="-56"/>
    <line x1="0" y1="-40" x2="-16" y2="-51"/><line x1="0" y1="-40" x2="16" y2="-51"/><line x1="0" y1="-40" x2="-20" y2="-44"/>
    <line x1="0" y1="-40" x2="20" y2="-44"/><line x1="0" y1="-40" x2="-5" y2="-57"/><line x1="0" y1="-40" x2="5" y2="-57"/>
    <line x1="0" y1="-40" x2="-13" y2="-54"/><line x1="0" y1="-40" x2="13" y2="-54"/>
  </g>
  <circle cx="0" cy="-40" r="8" fill="#e6e6e6" stroke-width="1.5"/>
  <ellipse cx="0" cy="7" rx="28" ry="39" stroke-width="5" stroke-dasharray="3 2"/>
  <ellipse cx="0" cy="7" rx="20" ry="30" stroke-width="1.5"/>
  <line x1="-20" y1="7" x2="20" y2="7" stroke-width="1.5"/>
  <g stroke-width="0.8" opacity="0.8"><line x1="-19" y1="13" x2="19" y2="13"/><line x1="-18" y1="19" x2="18" y2="19"/><line x1="-16" y1="25" x2="16" y2="25"/><line x1="-12" y1="31" x2="12" y2="31"/></g>
  <line x1="0" y1="-15" x2="0" y2="33" stroke-width="1.5"/>
  <circle cx="0" cy="-15" r="4" stroke-width="1.3"/>
  <path d="M-14,17 q7,-6 14,0 q7,-6 14,0" stroke-width="1.5"/>
  <path d="M-7,47 L0,56 L7,47 M-4,52 l-4,4 M4,52 l4,4" stroke-width="2.5"/>
</g>
<g font-family="Liberation Serif, serif" font-weight="bold" fill="#2b3152">
  <text x="734.5" y="1489.6" font-size="25" textLength="117.6" lengthAdjust="spacingAndGlyphs">Ministerio</text>
  <text x="734.5" y="1512.8" font-size="25" textLength="142.3" lengthAdjust="spacingAndGlyphs">de Economía</text>
</g>
<text x="734.5" y="1530.5" font-family="Liberation Serif, serif" font-size="13" fill="#3a3f5c" textLength="133" lengthAdjust="spacingAndGlyphs">República Argentina</text>
</svg>
</body></html>
